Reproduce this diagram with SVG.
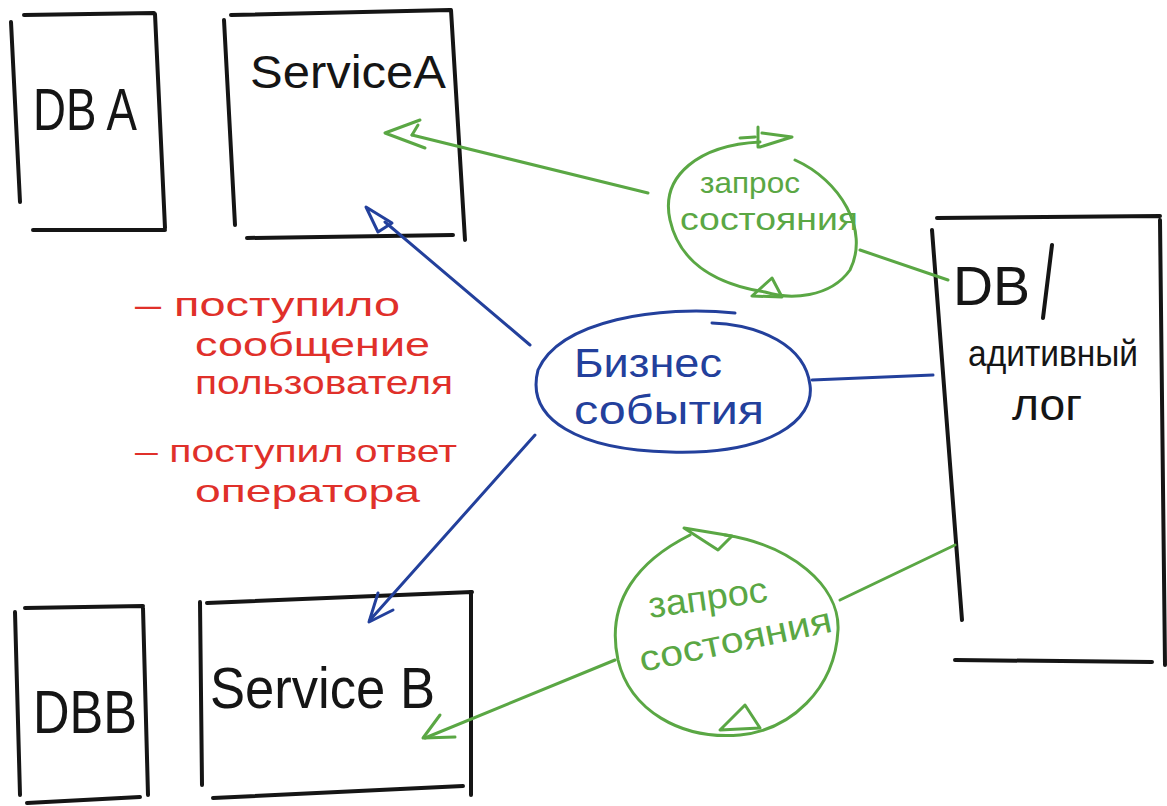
<svg xmlns="http://www.w3.org/2000/svg" width="1167" height="806" viewBox="0 0 1167 806">
<style>
.bx{fill:none;stroke:#151515;stroke-width:4;stroke-linecap:round;stroke-linejoin:round}
.g{fill:none;stroke:#5aa744;stroke-width:3;stroke-linecap:round;stroke-linejoin:round}
.b{fill:none;stroke:#23409c;stroke-width:3;stroke-linecap:round;stroke-linejoin:round}
.tk{font-family:"Liberation Sans","DejaVu Sans",sans-serif;fill:#151515}
.tg{font-family:"Liberation Sans","DejaVu Sans",sans-serif;fill:#5aa744}
.tb{font-family:"Liberation Sans","DejaVu Sans",sans-serif;fill:#23409c}
.tr{font-family:"Liberation Sans","DejaVu Sans",sans-serif;fill:#e0302a}
</style>
<rect width="1167" height="806" fill="#ffffff"/>

<g id="dba">
<path class="bx" d="M11 22 L20 202 M24 15 L154 13 M155 14 L165 228 M33 230 L165 230"/>
<text class="tk" x="33" y="130" font-size="60" textLength="104" lengthAdjust="spacingAndGlyphs">DB A</text>
</g>

<g id="service-a">
<path class="bx" d="M224 20 L235 225 M231 15 L450 10 M451 10 L465 240 M247 238 L453 235"/>
<text class="tk" x="250" y="88" font-size="46" textLength="196" lengthAdjust="spacingAndGlyphs">ServiceA</text>
</g>

<g id="dbb">
<path class="bx" d="M15 612 L20 795 M25 608 L143 606 M143 608 L148 795 M27 803 L140 797"/>
<text class="tk" x="33" y="733" font-size="62" textLength="104" lengthAdjust="spacingAndGlyphs">DBB</text>
</g>

<g id="service-b">
<path class="bx" d="M200 602 L202 785 M207 603 L472 592 M471 592 L471 795 M213 798 L463 786"/>
<text class="tk" x="210" y="708" font-size="58" textLength="225" lengthAdjust="spacingAndGlyphs">Service B</text>
</g>

<g id="db-log">
<path class="bx" d="M932 230 L962 620 M937 218 L1160 216 M1160 220 L1165 665 M955 660 L1152 662"/>
<text class="tk" x="953" y="305" font-size="56" textLength="77" lengthAdjust="spacingAndGlyphs">DB</text>
<path class="bx" d="M1052 245 L1043 318"/>
<text class="tk" x="968" y="366" font-size="36" textLength="170" lengthAdjust="spacingAndGlyphs">адитивный</text>
<text class="tk" x="1012" y="420" font-size="44" textLength="70" lengthAdjust="spacingAndGlyphs">лог</text>
</g>

<g id="business-events">
<path class="b" d="M735 313 C660 305 560 320 538 370 C525 420 580 450 670 452 C770 455 815 420 810 385 C805 345 760 325 712 323"/>
<text class="tb" x="574" y="377" font-size="40" textLength="148" lengthAdjust="spacingAndGlyphs">Бизнес</text>
<text class="tb" x="574" y="424" font-size="40" textLength="190" lengthAdjust="spacingAndGlyphs">события</text>
</g>

<g id="state-request-top">
<path class="g" d="M795 160 C840 180 870 230 850 270 C830 298 790 300 765 292 C720 285 680 265 670 220 C660 175 700 145 760 142"/>
<path class="g" d="M758 127 L758 147 M762 133 L792 137 L760 147 M755 137 L740 138"/>
<path class="g" d="M772 278 L752 296 L782 297 Z"/>
<text class="tg" x="700" y="193" font-size="30" textLength="100" lengthAdjust="spacingAndGlyphs">запрос</text>
<text class="tg" x="680" y="230" font-size="32" textLength="178" lengthAdjust="spacingAndGlyphs">состояния</text>
</g>

<g id="state-request-bottom">
<path class="g" d="M725 535 C790 545 840 585 838 630 C835 690 790 730 740 735 C680 740 630 710 618 660 C605 600 640 560 690 535"/>
<path class="g" d="M684 528 L732 536 L718 550 Z"/>
<path class="g" d="M745 705 L720 730 L760 728 Z"/>
<text class="tg" x="650" y="618" font-size="36" textLength="120" lengthAdjust="spacingAndGlyphs" transform="rotate(-8 650 618)">запрос</text>
<text class="tg" x="642" y="672" font-size="36" textLength="196" lengthAdjust="spacingAndGlyphs" transform="rotate(-12 642 672)">состояния</text>
</g>

<g id="notes">
<text class="tr" x="135" y="316" font-size="34" textLength="265" lengthAdjust="spacingAndGlyphs">– поступило</text>
<text class="tr" x="195" y="356" font-size="34" textLength="235" lengthAdjust="spacingAndGlyphs">сообщение</text>
<text class="tr" x="195" y="394" font-size="34" textLength="258" lengthAdjust="spacingAndGlyphs">пользователя</text>
<text class="tr" x="135" y="462" font-size="32" textLength="322" lengthAdjust="spacingAndGlyphs">– поступил ответ</text>
<text class="tr" x="195" y="502" font-size="32" textLength="225" lengthAdjust="spacingAndGlyphs">оператора</text>
</g>

<g id="connectors">
<path class="g" d="M648 193 L412 135"/>
<path class="g" d="M420 120 L385 133 L425 148 M412 135 L418 125"/>
<path class="g" d="M860 250 L948 280"/>
<path class="b" d="M530 345 L385 222"/>
<path class="b" d="M366 207 L378 232 L392 223 Z"/>
<path class="b" d="M535 435 L370 620"/>
<path class="b" d="M378 593 L369 622 L393 610"/>
<path class="b" d="M812 380 L933 375"/>
<path class="g" d="M615 660 L425 738"/>
<path class="g" d="M440 715 L423 738 L455 737"/>
<path class="g" d="M840 600 L955 545"/>
</g>
</svg>
